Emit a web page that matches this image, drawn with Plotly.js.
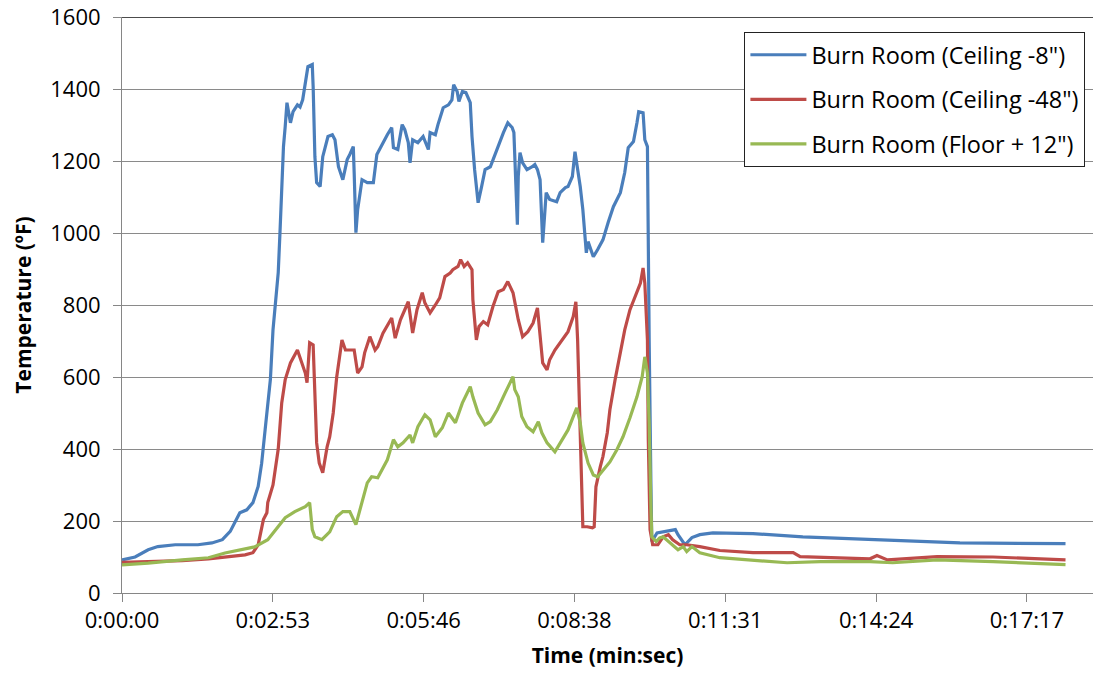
<!DOCTYPE html>
<html>
<head>
<meta charset="utf-8">
<script src="https://cdn.plot.ly/plotly-3.0.1.min.js"></script>
<style>html,body{margin:0;padding:0;background:#fff;}#chart{width:1096px;height:681px;}</style>
</head>
<body>
<div id="chart"></div>
<script>
// Time in seconds, temperatures in °F
const tickSeconds = [0, 172.8, 345.6, 518.4, 691.2, 864, 1036.8];
const tickLabels = ["0:00:00", "0:02:53", "0:05:46", "0:08:38", "0:11:31", "0:14:24", "0:17:17"];
const yTicks = [0, 200, 400, 600, 800, 1000, 1200, 1400, 1600];

const ceil8Time = [0,15,30,41,61,87,103,115,124,133,135,143,150,156,160,164,170,173,178,179,181,183,185,187,189,193,196,201,204,207,210,213,218,219,221,223,227,230,236,241,244,248,253,258,261,265,266,268,270,275,281,288,292,299,304,309,311,316,321,324,328,330,333,339,345,351,353,359,362,368,374,378,380,384,386,390,394,399,401,404,408,412,416,422,425,431,437,442,447,449,451,453,454,456,459,464,470,473,476,479,482,484,486,490,498,502,508,511,516,519,521,525,528,532,534,540,545,551,557,563,571,576,580,586,590,592,597,599,602,603,604,606,607,613,620,634,637,645,653,662,677,723,780,857,960,1081];
const ceil8Temp = [92,100,120,129,134,134,139,148,171,217,223,231,251,296,360,454,593,731,851,890,1001,1134,1240,1296,1362,1306,1337,1356,1350,1370,1420,1462,1468,1407,1212,1140,1129,1212,1268,1273,1259,1184,1148,1204,1218,1240,1168,1001,1065,1148,1140,1140,1218,1251,1273,1293,1237,1232,1301,1287,1251,1195,1259,1251,1268,1232,1279,1273,1301,1348,1356,1370,1412,1393,1365,1393,1390,1362,1268,1176,1084,1129,1176,1184,1204,1240,1279,1306,1293,1279,1148,1023,1157,1223,1195,1176,1184,1190,1176,1148,973,1037,1112,1093,1087,1112,1126,1129,1157,1226,1198,1129,1065,945,976,934,954,981,1029,1073,1112,1168,1237,1254,1306,1337,1334,1259,1240,871,700,300,143,167,170,176,162,134,154,162,167,165,156,148,139,137];

const ceil48Time = [0,30,69,99,121,141,150,156,162,166,167,173,179,183,187,193,201,206,210,212,215,219,221,223,226,230,235,238,242,246,252,256,261,266,270,275,278,284,290,293,299,309,313,319,328,333,338,344,347,353,359,364,370,376,379,385,388,392,396,401,402,406,409,414,419,425,431,437,442,448,454,459,465,471,476,478,482,487,490,496,504,511,517,520,522,524,526,528,533,539,541,543,548,551,556,559,565,571,576,582,588,594,597,599,602,603,605,608,614,620,626,631,639,647,662,685,723,769,777,819,857,865,877,934,998,1081];
const ceil48Temp = [85,87,90,95,101,106,112,134,204,223,251,300,400,528,593,639,675,639,611,584,695,689,565,417,361,334,406,434,500,600,703,675,675,675,611,628,667,712,675,684,722,764,708,759,809,722,787,834,806,778,800,820,879,889,898,907,926,907,917,898,815,703,740,754,745,796,837,843,865,834,759,712,726,750,792,740,639,620,648,675,703,726,768,809,703,517,334,184,184,181,184,295,351,379,445,509,593,667,731,787,824,861,903,861,703,426,176,134,134,156,162,148,134,134,129,118,112,112,101,98,95,104,92,101,100,92];

const floor12Time = [0,30,69,99,118,138,152,167,179,187,198,210,215,218,221,229,238,246,253,261,268,275,281,286,293,304,311,316,322,330,333,339,347,353,359,367,374,382,390,399,402,408,416,422,430,439,445,448,450,454,458,464,471,477,481,487,496,504,511,517,521,525,528,534,540,545,551,559,567,574,582,590,596,599,602,604,606,607,612,616,620,628,637,643,647,653,662,685,723,762,800,857,883,934,998,1081];
const floor12Temp = [78,83,92,98,111,120,128,148,184,209,226,240,251,176,156,148,170,212,226,226,190,251,306,323,320,370,426,406,417,439,417,462,495,481,434,459,500,473,528,573,545,500,467,476,509,556,587,601,565,545,490,462,448,476,445,417,392,426,453,490,514,473,417,361,328,323,342,364,398,434,487,545,601,656,611,473,240,156,143,153,156,139,120,129,115,129,112,98,90,84,87,87,84,92,87,79];

const seriesNames = ['Burn Room (Ceiling -8")', 'Burn Room (Ceiling -48")', 'Burn Room (Floor + 12")'];
const seriesColors = ['#4A7EBB', '#BE4B48', '#98B954'];

const FONT = '"Open Sans", "Noto Sans", sans-serif';
const xs = [ceil8Time, ceil48Time, floor12Time];
const ys = [ceil8Temp, ceil48Temp, floor12Temp];

const traces = xs.map((x, i) => ({
  type: 'scatter', mode: 'lines', x: x, y: ys[i], name: seriesNames[i],
  legendgroup: 'g' + i,
  line: {color: seriesColors[i], width: 3.2}
}));

const layout = {
  width: 1096, height: 681,
  margin: {l: 122, r: 3, t: 17, b: 88},
  paper_bgcolor: '#fff', plot_bgcolor: '#fff',
  font: {family: FONT, color: '#000', size: 22},
  showlegend: true,
  legend: {
    x: 0.641, y: 0.974, xanchor: 'left', yanchor: 'top',
    bgcolor: '#fff', bordercolor: '#222', borderwidth: 1,
    font: {family: FONT, size: 23.5, color: '#000'},
    tracegroupgap: 11,
    itemwidth: 56
  },
  xaxis: {
    range: [0, 1112.5], autorange: false,
    tickmode: 'array', tickvals: tickSeconds, ticktext: tickLabels,
    ticks: 'outside', ticklen: 8, tickcolor: '#868686', tickwidth: 1,
    showline: true, linecolor: '#868686', linewidth: 1,
    showgrid: false, zeroline: false,
    tickfont: {family: FONT, size: 22, color: '#000'},
    title: {text: 'Time (min:sec)', font: {family: FONT, size: 21, color: '#000', weight: 'bold'}, standoff: 14}
  },
  yaxis: {
    range: [0, 1600], autorange: false,
    tickmode: 'array', tickvals: yTicks,
    ticks: 'outside', ticklen: 8, tickcolor: '#868686', tickwidth: 1,
    showline: true, linecolor: '#868686', linewidth: 1,
    showgrid: true, gridcolor: '#8a8a8a', gridwidth: 1, zeroline: false,
    tickfont: {family: FONT, size: 22, color: '#000'},
    ticklabelstandoff: 8,
    title: {text: 'Temperature (ºF)', font: {family: FONT, size: 21, color: '#000', weight: 'bold'}, standoff: 12}
  },
  shapes: [{type: 'line', xref: 'paper', yref: 'y', x0: 0, x1: 1, y0: 1600, y1: 1600, line: {color: '#111', width: 1.5}}]
};

Plotly.newPlot('chart', traces, layout, {displayModeBar: false, staticPlot: true});
</script>
</body>
</html>
